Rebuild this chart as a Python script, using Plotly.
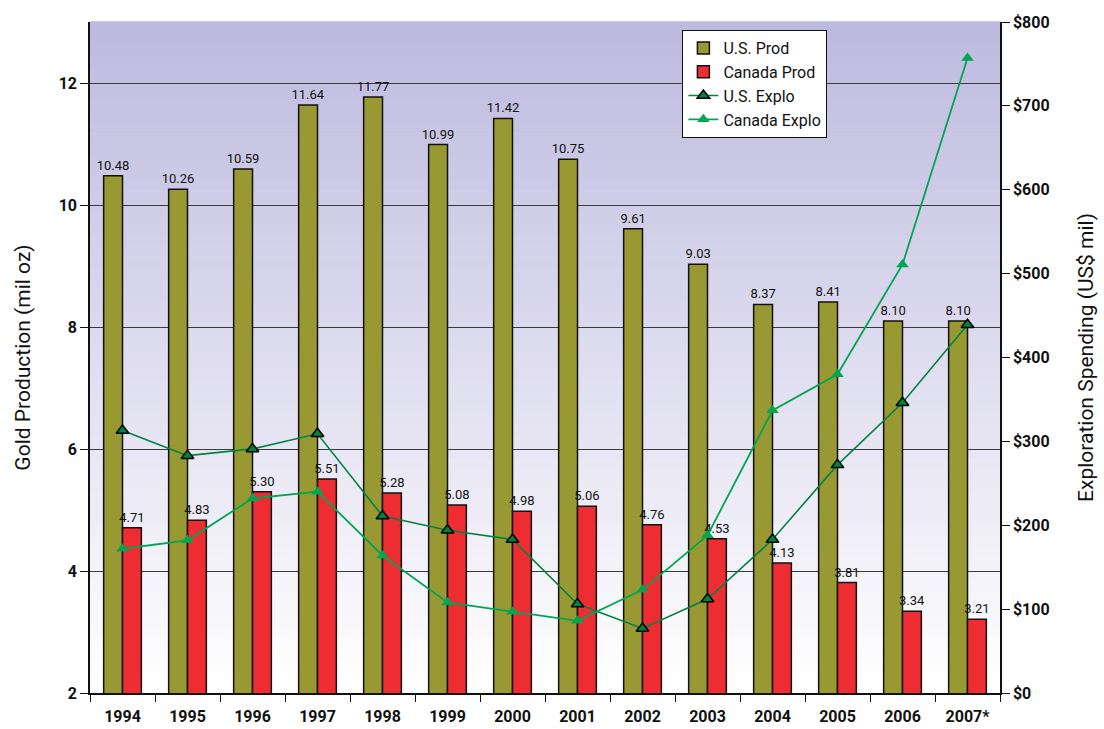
import plotly.graph_objects as go

years = ["1994", "1995", "1996", "1997", "1998", "1999", "2000", "2001",
         "2002", "2003", "2004", "2005", "2006", "2007*"]
us_prod = [10.48, 10.26, 10.59, 11.64, 11.77, 10.99, 11.42, 10.75, 9.61, 9.03, 8.37, 8.41, 8.10, 8.10]
canada_prod = [4.71, 4.83, 5.30, 5.51, 5.28, 5.08, 4.98, 5.06, 4.76, 4.53, 4.13, 3.81, 3.34, 3.21]
us_explo = [313, 283, 291, 309, 211, 194, 183, 106, 77, 112, 183, 272, 346, 439]
canada_explo = [172, 182, 232, 240, 164, 108, 97, 86, 123, 188, 337, 380, 511, 757]

FONT = "Roboto, Liberation Sans, sans-serif"

fig = go.Figure()
fig.add_trace(go.Bar(
    x=years, y=us_prod, name="U.S. Prod",
    marker=dict(color="#999933", line=dict(color="#111111", width=1.5)),
    text=[f"{v:.2f}" for v in us_prod], textposition="outside",
    textfont=dict(family=FONT, size=13, color="#111111"),
    constraintext="none", cliponaxis=False,
))
fig.add_trace(go.Bar(
    x=years, y=canada_prod, name="Canada Prod",
    marker=dict(color="#ee2d32", line=dict(color="#111111", width=1.5)),
    text=[f"{v:.2f}" for v in canada_prod], textposition="outside",
    textfont=dict(family=FONT, size=13, color="#111111"),
    constraintext="none", cliponaxis=False,
))
fig.add_trace(go.Scatter(
    x=years, y=us_explo, name="U.S. Explo", yaxis="y2", mode="lines+markers",
    line=dict(color="#00843d", width=1.6),
    marker=dict(symbol="triangle-up", size=11, color="#00843d",
                line=dict(color="#000000", width=1.5)),
))
fig.add_trace(go.Scatter(
    x=years, y=canada_explo, name="Canada Explo", yaxis="y2", mode="lines+markers",
    line=dict(color="#00a651", width=1.8),
    marker=dict(symbol="triangle-up", size=11, color="#00a651",
                line=dict(width=0)),
))

# background vertical gradient (lavender top -> white bottom)
n = 60
top = (190, 186, 223)
bot = (255, 255, 255)
shapes = []
for i in range(n):
    t = i / (n - 1)
    c = tuple(int(round(bot[k] + (top[k] - bot[k]) * t)) for k in range(3))
    shapes.append(dict(
        type="rect", xref="x domain", yref="y domain",
        x0=0, x1=1, y0=i / n, y1=(i + 1) / n + 0.001,
        fillcolor=f"rgb({c[0]},{c[1]},{c[2]})", line=dict(width=0),
        layer="below",
    ))

fig.update_layout(
    width=1104, height=729,
    margin=dict(l=90, r=104, t=22, b=36),
    paper_bgcolor="white", plot_bgcolor="white",
    barmode="group", bargap=0.42, bargroupgap=0,
    shapes=shapes,
    font=dict(family=FONT, color="#111111"),
    showlegend=True,
    legend=dict(
        x=0.651, y=0.988, xanchor="left", yanchor="top",
        bgcolor="white", bordercolor="#111111", borderwidth=1,
        font=dict(family=FONT, size=16, color="#111111"),
        tracegroupgap=4, itemwidth=30,
    ),
    xaxis=dict(
        type="category", range=[-0.5, 13.5], tickson="boundaries",
        ticks="outside", ticklen=7, ticklabelstandoff=8, automargin=False,
        tickcolor="#111111", showline=True, linecolor="#111111", linewidth=1.5,
        tickfont=dict(family=FONT, size=16, color="#111111", weight="bold"),
        showgrid=False,
    ),
    yaxis=dict(
        range=[2, 13], tickvals=[2, 4, 6, 8, 10, 12], automargin=False,
        ticks="outside", ticklen=8, tickcolor="#111111",
        showline=True, linecolor="#111111", linewidth=1.5,
        showgrid=True, gridcolor="#3a3a3a", gridwidth=1,
        zeroline=False,
        tickfont=dict(family=FONT, size=16, color="#111111", weight="bold"),
        title=dict(text="Gold Production (mil oz)",
                   font=dict(family=FONT, size=21, color="#111111"), standoff=22),
    ),
    yaxis2=dict(
        overlaying="y", side="right", range=[0, 800], automargin=False,
        tickvals=[0, 100, 200, 300, 400, 500, 600, 700, 800],
        ticktext=["$0", "$100", "$200", "$300", "$400", "$500", "$600", "$700", "$800"],
        ticks="outside", ticklen=8, tickcolor="#111111",
        showline=True, linecolor="#111111", linewidth=1.5,
        showgrid=False, zeroline=False,
        tickfont=dict(family=FONT, size=16, color="#111111", weight="bold"),
        title=dict(text="Exploration Spending (US$ mil)",
                   font=dict(family=FONT, size=21, color="#111111"), standoff=30),
    ),
)

fig.write_html("out.html")
